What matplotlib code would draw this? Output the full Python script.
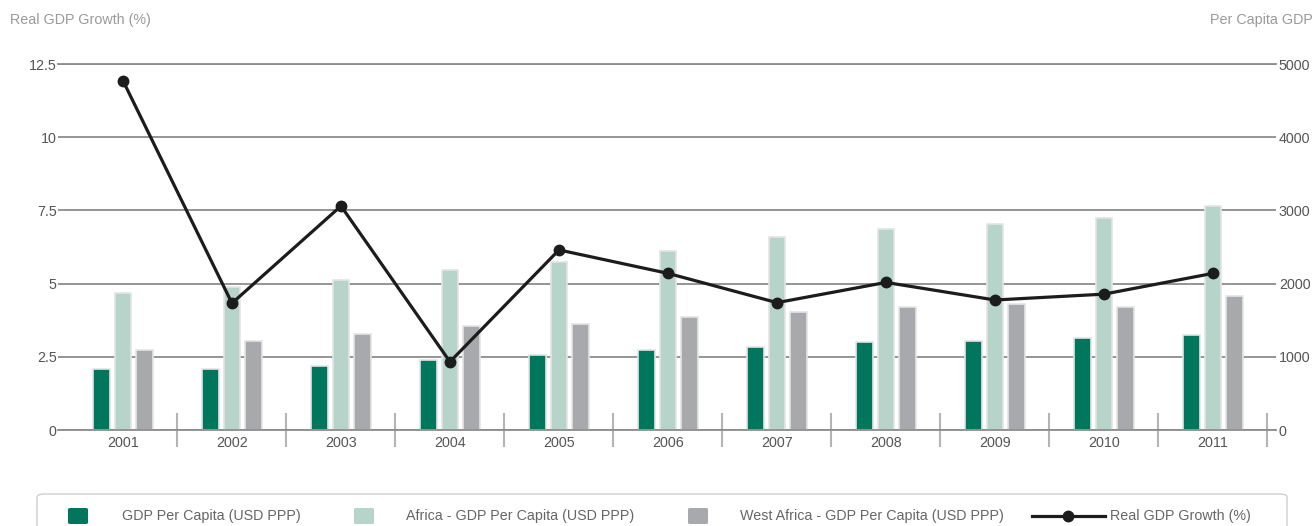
import numpy as np
import matplotlib
matplotlib.use("Agg")
import matplotlib.pyplot as plt
from matplotlib.patches import FancyBboxPatch
from matplotlib.lines import Line2D

plt.rcParams['font.family'] = ['Liberation Sans', 'DejaVu Sans']

years = ["2001", "2002", "2003", "2004", "2005", "2006", "2007", "2008", "2009", "2010", "2011"]
gdp_pc = [833, 833, 878, 956, 1025, 1093, 1138, 1202, 1220, 1261, 1293]
africa_pc = [1867, 1949, 2049, 2186, 2299, 2449, 2632, 2741, 2814, 2900, 3064]
west_africa_pc = [1093, 1220, 1311, 1421, 1448, 1548, 1612, 1685, 1721, 1685, 1831]
growth = [11.93, 4.33, 7.65, 2.33, 6.15, 5.35, 4.35, 5.04, 4.44, 4.64, 5.35]

left_ticks = [0, 2.5, 5, 7.5, 10, 12.5]
right_ticks = [0, 1000, 2000, 3000, 4000, 5000]

c_green = "#00775c"
c_light = "#b6d4c9"
c_grey = "#a8a9ac"
c_line = "#1c1c1c"
c_grid = "#8c8c8c"
c_text = "#555555"
c_title = "#9a9a9a"
fs = 10.3

W, H = 1315, 526
fig = plt.figure(figsize=(W / 100, H / 100), dpi=100)
ax = fig.add_axes([58 / W, 96 / H, (1276 - 58) / W, (430 - 64) / H])

x = np.arange(len(years))
bw = 0.155
off = 0.2
bar_kw = dict(width=bw, edgecolor="#e4e4e4", linewidth=1.2, zorder=2)
ax.bar(x - off, gdp_pc, color=c_green, **bar_kw)
ax.bar(x, africa_pc, color=c_light, **bar_kw)
ax.bar(x + off, west_africa_pc, color=c_grey, **bar_kw)

ax.set_ylim(0, 5000)
ax.set_xlim(-0.596, 10.578)
ax.set_axisbelow(True)
ax.yaxis.grid(True, color=c_grid, linewidth=1.3)

# category separators and labels
ax.set_xticks(list(x + 0.5))
ax.set_xticklabels([])
ax.set_xticks(x, minor=True)
ax.set_xticklabels(years, minor=True)
ax.tick_params(axis="x", which="major", direction="inout", length=24, width=1.5, color="#b4b4b4")
ax.tick_params(axis="x", which="minor", length=0, pad=4, labelsize=fs, labelcolor=c_text)

for s in ["left", "right"]:
    ax.spines[s].set_visible(False)
for s in ["top", "bottom"]:
    ax.spines[s].set_color(c_grid)
    ax.spines[s].set_linewidth(1.3)

ax2 = ax.twinx()
ax2.plot(x, growth, color=c_line, linewidth=2.3, marker="o", markersize=7.5, zorder=5, clip_on=False)
ax2.set_ylim(0, 12.5)
ax2.set_yticks(left_ticks)
ax2.set_yticklabels(["{:g}".format(v) for v in left_ticks])
ax2.yaxis.tick_left()
ax2.tick_params(axis="y", length=0, pad=1, labelsize=fs, labelcolor=c_text)
for s in ax2.spines.values():
    s.set_visible(False)

# per-capita axis goes on the right (after twinx, which resets it)
ax.set_yticks(right_ticks)
ax.set_yticklabels([str(v) for v in right_ticks])
ax.yaxis.tick_right()
ax.tick_params(axis="y", length=0, pad=2, labelsize=fs, labelcolor=c_text)

fig.text(10 / W, 1 - 20 / H, "Real GDP Growth (%)", va="center", ha="left", fontsize=fs, color=c_title)
fig.text(1313 / W, 1 - 20 / H, "Per Capita GDP", va="center", ha="right", fontsize=fs, color=c_title)

# legend box
frame = FancyBboxPatch((37 / W, -10 / H), (1287 - 37) / W, (529 - 497 + 10) / H,
                       boxstyle="round,pad=0,rounding_size=0.006", transform=fig.transFigure,
                       facecolor="white", edgecolor="#cfcfcf", linewidth=1)
fig.patches.append(frame)

legend_items = [
    (68, c_green, "GDP Per Capita (USD PPP)", 122),
    (354, c_light, "Africa - GDP Per Capita (USD PPP)", 406),
    (688, c_grey, "West Africa - GDP Per Capita (USD PPP)", 740),
]
ly = 1 - 516 / H
for px, col, label, tx in legend_items:
    sw = FancyBboxPatch((px / W, 1 - 524 / H), 20 / W, 16 / H,
                        boxstyle="round,pad=0,rounding_size=0.002", transform=fig.transFigure,
                        facecolor=col, edgecolor="none")
    fig.patches.append(sw)
    fig.text(tx / W, ly, label, va="center", ha="left", fontsize=fs, color="#666666")

fig.add_artist(Line2D([1032 / W, 1105 / W], [ly, ly], color=c_line, linewidth=2.3,
                      transform=fig.transFigure))
fig.add_artist(Line2D([1068 / W], [ly], color=c_line, marker="o", markersize=7.5,
                      transform=fig.transFigure))
fig.text(1110 / W, ly, "Real GDP Growth (%)", va="center", ha="left", fontsize=fs, color="#666666")

fig.savefig("out.png", dpi=100)
